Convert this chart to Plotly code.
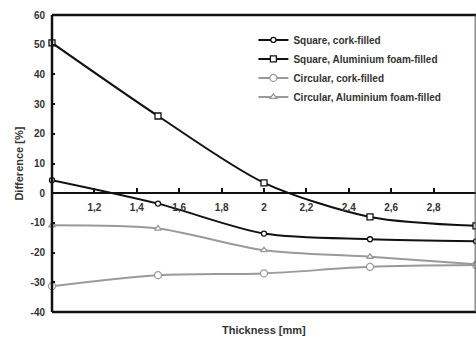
import plotly.graph_objects as go

thickness = [1.0, 1.5, 2.0, 2.5, 3.0]
square_cork = [4.4, -3.5, -13.6, -15.5, -16.2]
square_alu = [50.6, 26.0, 3.5, -8.0, -11.0]
circular_cork = [-31.3, -27.6, -27.0, -24.8, -24.2]
circular_alu = [-10.8, -11.9, -19.2, -21.4, -23.9]

x_ticks = [1.2, 1.4, 1.6, 1.8, 2.0, 2.2, 2.4, 2.6, 2.8, 3.0]
x_tick_text = ["1,2", "1,4", "1,6", "1,8", "2", "2,2", "2,4", "2,6", "2,8", "3"]
y_ticks = [-40, -30, -20, -10, 0, 10, 20, 30, 40, 50, 60]
y_tick_text = ["-40", "-30", "-20", "-10", "0", "10", "20", "30", "40", "50", "60"]

FONT = "Liberation Sans"
TXT = "#333333"
BLACK = "#111111"
GRAY = "#9a9a9a"

fig = go.Figure()
series = [
    ("Square, cork-filled", square_cork, BLACK, "circle", 5),
    ("Square, Aluminium foam-filled", square_alu, BLACK, "square", 6),
    ("Circular, cork-filled", circular_cork, GRAY, "circle", 7),
    ("Circular, Aluminium foam-filled", circular_alu, GRAY, "triangle-up", 6),
]
for name, ys, col, sym, sz in series:
    fig.add_trace(go.Scatter(
        x=thickness, y=ys, name=name, mode="lines+markers",
        line=dict(color=col, width=2, shape="spline", smoothing=0.8),
        marker=dict(symbol=sym, size=sz, color="white", line=dict(color=col, width=1.3)),
        cliponaxis=False,
    ))

fig.update_layout(
    width=476, height=338,
    margin=dict(l=52, r=0, t=15, b=26),
    paper_bgcolor="white", plot_bgcolor="white",
    separators=", ",
    font=dict(family=FONT, size=10, color=TXT),
    showlegend=True,
    legend=dict(x=0.475, y=0.965, xanchor="left", yanchor="top",
                bgcolor="rgba(0,0,0,0)", itemwidth=30,
                font=dict(family=FONT, size=10, color=TXT, weight="bold")),
    xaxis=dict(range=[1, 3], anchor="free", position=0.4,
               showline=True, linecolor=BLACK, linewidth=2,
               ticks="inside", ticklen=4, tickwidth=1.5, tickcolor=BLACK,
               tickvals=x_ticks, ticktext=x_tick_text, ticklabelstandoff=5,
               tickfont=dict(family=FONT, size=10, color=TXT, weight="bold"),
               showgrid=False, zeroline=False),
    yaxis=dict(range=[-40, 60], domain=[0, 1],
               showline=False, ticks="inside", ticklen=3, tickwidth=1.5, tickcolor=BLACK,
               tickvals=y_ticks, ticktext=y_tick_text, ticklabelstandoff=6,
               tickfont=dict(family=FONT, size=10, color=TXT, weight="bold"),
               showgrid=False, zeroline=False),
    shapes=[
        dict(type="line", xref="paper", yref="paper", x0=0, x1=0, y0=0, y1=1,
             line=dict(color=BLACK, width=2.5)),
        dict(type="line", xref="paper", yref="paper", x0=0, x1=1, y0=1, y1=1,
             line=dict(color=BLACK, width=2.5)),
        dict(type="line", xref="paper", yref="paper", x0=0, x1=1, y0=0, y1=0,
             line=dict(color=BLACK, width=2.5)),
        dict(type="line", xref="paper", yref="paper", x0=0.998, x1=0.998, y0=0, y1=1,
             line=dict(color="#555555", width=1)),
    ],
    annotations=[
        dict(text="Thickness [mm]", xref="paper", yref="paper", x=0.5, y=-0.06,
             xanchor="center", yanchor="middle", showarrow=False,
             font=dict(family=FONT, size=11, color=TXT, weight="bold")),
        dict(text="Difference [%]", xref="paper", yref="paper", x=-0.08, y=0.5,
             xanchor="center", yanchor="middle", textangle=-90, showarrow=False,
             font=dict(family=FONT, size=11, color=TXT, weight="bold")),
    ],
)

fig.write_html("out.html")
